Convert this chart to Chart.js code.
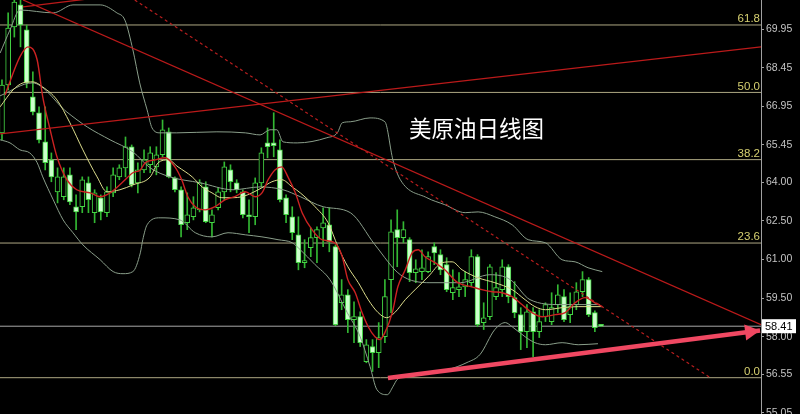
<!DOCTYPE html>
<html>
<head>
<meta charset="utf-8">
<script src="https://cdn.jsdelivr.net/npm/chart.js@4"></script>
<style>
html, body { margin: 0; padding: 0; background: #000; }
#wrap { width: 800px; height: 414px; }
</style>
</head>
<body>
<div id="wrap"><canvas id="canvas" width="800" height="414"></canvas></div>
<script>
const title = '美原油日线图'
const tickValues = [69.95, 68.45, 66.95, 65.45, 64.00, 62.50, 61.00, 59.50, 58.00, 56.55, 55.05]
const fibValues = [70.11, 67.49, 64.88, 61.64, 56.41]
const fibLabels = ['61.8', '50.0', '38.2', '23.6', '0.0']
const lastPrice = 58.41

// daily candles, oldest first
const opens = [65.92,67.78,70.03,70.89,69.92,67.32,66.70,65.57,64.87,63.63,63.44,64.29,63.05,63.05,63.98,62.82,63.40,62.82,63.59,64.21,
  64.56,65.38,63.98,64.48,64.68,64.60,65.07,65.96,64.17,63.71,62.43,62.66,62.93,63.82,62.43,63.01,63.63,64.48,63.98,63.63,
  62.74,62.66,63.98,65.53,65.53,65.26,63.40,62.66,61.96,60.88,61.46,61.85,62.23,62.35,61.50,59.32,59.63,58.66,58.78,57.03,
  57.62,57.38,58.00,60.22,62.16,61.85,61.77,60.49,60.53,60.53,61.50,61.19,60.80,59.71,59.83,59.94,60.10,61.11,58.55,58.78,
  59.56,59.83,60.72,59.52,58.86,58.20,58.97,58.20,58.78,58.59,59.25,59.56,58.86,59.25,59.75,60.22,58.94,58.43]
const highs = [67.98,70.58,71.10,71.10,70.11,68.29,66.93,66.93,65.14,64.56,64.56,64.56,63.51,64.21,64.21,63.71,63.51,63.82,64.56,64.68,
  65.76,65.45,64.76,65.26,65.38,65.38,66.42,66.11,64.21,63.82,63.59,63.44,64.10,64.02,62.93,63.79,64.79,64.68,64.10,63.71,
  63.32,64.17,65.34,66.11,66.70,65.65,63.51,63.05,62.66,61.77,62.23,62.27,63.01,63.01,61.57,60.22,59.83,59.36,58.97,57.89,
  57.89,58.55,60.22,62.54,62.93,62.47,61.85,60.99,61.38,61.30,61.65,61.38,61.07,60.60,60.49,60.53,61.38,61.19,59.32,60.80,
  60.49,60.99,60.80,60.14,59.13,59.25,59.13,59.05,59.32,59.71,60.02,59.83,59.71,60.10,60.53,60.30,59.01,58.45]
const lows = [65.65,67.59,69.64,69.26,67.67,66.62,65.53,64.48,64.02,63.20,63.32,63.13,62.16,62.82,62.82,62.43,62.54,62.66,63.44,64.10,
  64.21,63.82,63.59,64.37,64.37,64.29,64.99,64.17,63.63,61.88,62.16,62.54,62.85,62.43,61.88,62.93,63.32,63.63,63.59,62.62,
  62.04,62.35,63.82,64.95,64.99,63.24,62.43,61.77,60.60,60.68,61.11,60.88,61.50,61.30,58.43,59.05,58.16,57.77,57.62,56.99,
  56.65,56.80,57.77,58.94,60.72,61.65,60.14,60.10,60.22,60.49,60.80,60.41,59.75,59.44,59.56,59.56,59.94,58.39,58.28,58.66,
  59.44,59.56,59.32,58.74,57.50,57.58,57.23,57.97,58.59,58.47,58.94,58.59,58.55,59.05,59.56,58.78,58.20,58.39]
const closes = [67.78,69.99,71.00,70.11,67.86,66.73,65.65,64.76,64.21,64.21,64.21,63.24,62.85,64.10,63.32,63.59,62.85,63.63,64.29,64.56,
  65.38,63.90,64.48,64.87,65.14,65.07,66.04,64.21,63.71,62.35,62.74,63.01,63.98,62.47,62.74,63.63,64.60,64.02,63.71,62.74,
  62.66,63.98,65.14,65.38,65.42,63.32,62.74,62.04,60.88,60.95,61.85,62.16,62.43,61.69,58.47,59.63,58.66,58.78,57.77,57.69,
  57.38,57.97,59.56,62.08,61.85,62.16,60.49,60.64,60.68,61.11,61.26,60.60,59.83,59.91,59.94,60.22,61.11,58.47,58.74,60.72,
  59.91,60.72,59.56,58.94,58.20,58.97,58.20,58.59,59.25,59.13,59.63,58.66,59.17,59.75,60.22,58.86,58.35,58.41]

// indicator lines as [bar index, price]
const maRed = [[0.5,67.39],[2.9,68.87],[4.2,69.26],[5.7,68.75],[6.6,67.32],[7.8,66.04],[8.9,64.99],[10.5,64.10],[12.1,63.71],[14.3,63.59],
  [15.9,63.44],[17.5,63.59],[19.6,64.02],[21.2,64.37],[22.4,64.48],[23.2,64.76],[24.8,64.87],[26.4,64.95],[28.0,64.60],[29.1,64.10],
  [30.1,63.44],[31.3,63.05],[32.9,62.93],[34.5,63.05],[36.1,63.32],[37.7,63.44],[39.4,63.63],[41.0,63.44],[42.1,63.59],[43.1,64.10],
  [44.2,64.48],[45.3,64.60],[46.3,64.21],[47.5,63.59],[48.6,62.82],[50.2,62.16],[51.8,61.77],[53.9,61.65],[55.1,61.11],[56.0,60.22],
  [57.2,59.71],[58.3,58.94],[59.3,58.39],[60.4,58.00],[61.2,57.89],[62.0,58.16],[63.2,58.94],[64.1,59.94],[65.3,60.60],[66.4,61.26],
  [67.4,61.38],[68.5,61.11],[70.1,60.88],[71.7,60.60],[73.8,60.10],[76.1,59.94],[77.7,59.83],[79.4,59.75],[81.0,59.71],[82.6,59.56],
  [84.2,59.25],[85.8,58.94],[87.5,58.78],[89.6,58.86],[91.2,58.94],[92.8,59.32],[94.4,59.52],[96.0,59.32],[97.2,59.17]]
const maYellow = [[-0.3,66.93],[1.8,67.59],[3.4,67.86],[5.0,67.90],[6.6,67.70],[8.9,67.20],[11.0,66.31],[13.1,65.26],[15.4,64.21],[17.0,63.63],
  [19.1,63.71],[21.2,63.90],[24.0,64.21],[25.3,64.76],[26.9,64.87],[28.5,64.60],[30.8,64.21],[32.4,63.82],[34.0,63.59],[35.6,63.40],
  [37.3,63.40],[38.9,63.44],[40.5,63.59],[42.1,63.79],[43.7,64.02],[45.3,64.10],[47.0,63.82],[48.3,63.59],[50.7,63.05],[52.8,62.43],
  [54.4,61.50],[56.0,60.72],[57.7,60.10],[59.3,59.44],[60.9,58.94],[62.3,58.74],[63.6,58.94],[65.3,59.44],[66.9,59.83],[69.0,60.33],
  [71.3,60.88],[72.9,60.91],[74.5,60.60],[77.1,60.29],[79.8,60.10],[82.6,59.83],[84.7,59.44],[86.3,59.17],[88.0,59.05],[90.7,59.13],
  [93.3,59.17],[97.2,59.17]]
const bandUpper = [[-0.3,69.02],[1.3,69.92],[2.9,70.69],[8.3,70.58],[11.5,70.89],[15.9,70.89],[18.6,70.58],[19.9,70.30],[21.2,69.14],[22.3,67.86],
  [23.5,66.81],[24.3,66.11],[25.6,65.92],[28.3,65.92],[34.8,65.96],[39.4,65.92],[41.8,65.84],[43.4,66.04],[44.5,66.04],[45.5,65.57],
  [47.8,65.53],[52.6,65.73],[54.3,65.92],[55.1,66.31],[56.4,66.35],[59.6,66.50],[62.0,66.35],[63.3,64.87],[64.5,64.10],[68.8,63.40],
  [71.7,63.13],[75.0,62.82],[77.1,62.85],[79.8,62.66],[82.6,62.35],[85.2,61.77],[88.0,61.65],[90.7,60.99],[92.8,60.91],[94.9,60.68],[97.2,60.53]]
const bandMid = [[-0.3,67.36],[4.9,67.86],[10.5,66.73],[13.8,66.15],[17.5,65.65],[21.2,65.18],[24.0,64.56],[27.2,64.21],[32.1,63.98],[37.4,63.71],
  [41.8,63.82],[45.5,63.71],[48.3,63.44],[52.0,63.05],[56.4,62.82],[60.4,61.57],[64.5,60.41],[69.3,60.10],[74.2,60.10],[79.0,60.41],
  [82.3,60.22],[85.5,59.44],[90.4,59.25],[96.8,59.25]]
const bandLower = [[-0.3,65.65],[1.3,65.53],[2.9,65.26],[4.5,65.14],[5.7,64.76],[6.6,64.21],[8.3,63.32],[9.9,62.54],[11.5,62.04],[13.1,61.57],
  [15.9,60.99],[18.0,60.53],[19.6,60.45],[21.2,60.53],[22.4,61.26],[22.8,61.77],[23.5,62.35],[25.6,62.62],[28.8,62.54],[31.3,62.04],
  [34.0,61.88],[36.6,62.04],[39.4,61.96],[42.1,61.88],[44.7,61.77],[47.0,61.65],[48.3,61.38],[50.7,60.80],[53.1,60.22],[55.9,58.94],
  [58.0,58.00],[59.6,56.84],[60.7,55.95],[62.4,55.75],[63.3,56.06],[64.0,56.34],[66.6,56.53],[72.1,56.72],[75.3,57.00],[77.4,57.31],
  [79.8,58.28],[81.5,58.55],[82.6,58.39],[84.7,58.00],[86.3,57.77],[88.0,57.69],[90.7,57.77],[93.3,57.69],[96.5,57.73]]

// hand drawn lines
const trendUp = [[-0.32,65.88],[122.9,69.26]]
const trendUpTop = [[3.4,70.81],[22.35,71.37]]
const trendDown = [[3.4,71.08],[122.9,58.47]]
const trendDotted = [[21.5,71.08],[114.7,56.41]]
const arrowLine = [[62.5,56.40],[122.75,58.24]]

const xMin = -0.32
const xMax = 122.9

const pts = arr => arr.map(p => ({ x: p[0], y: p[1] }))

function lineSet(arr, color, width, order, extra) {
  return Object.assign({
    type: 'line',
    data: pts(arr),
    borderColor: color,
    borderWidth: width,
    pointRadius: 0,
    fill: false,
    order: order,
  }, extra || {})
}

const datasets = []
datasets.push(lineSet(arrowLine, '#f04862', 4.5, 0))
datasets.push(lineSet(trendUp, '#bb1a1a', 1.3, 1))
datasets.push(lineSet(trendUpTop, '#bb1a1a', 1.3, 1))
datasets.push(lineSet(trendDown, '#bb1a1a', 1.3, 1))
datasets.push(lineSet(trendDotted, '#b81e1e', 1.2, 1, { borderDash: [3, 3] }))
datasets.push(lineSet(maRed, '#cc2222', 1.4, 2, { cubicInterpolationMode: 'monotone' }))
datasets.push(lineSet(maYellow, '#dcdc8c', 1, 3, { cubicInterpolationMode: 'monotone' }))
datasets.push(lineSet(bandUpper, '#8a9e8a', 1, 4, { cubicInterpolationMode: 'monotone' }))
datasets.push(lineSet(bandMid, '#8a9e8a', 1, 4, { cubicInterpolationMode: 'monotone' }))
datasets.push(lineSet(bandLower, '#8a9e8a', 1, 4, { cubicInterpolationMode: 'monotone' }))

datasets.push({
  type: 'bar',
  data: opens.map((o, i) => ({ x: i, y: [o, closes[i]] })),
  backgroundColor: opens.map((o, i) => closes[i] < o ? '#ccffcc' : '#000000'),
  borderColor: '#44d444',
  borderWidth: 1,
  borderSkipped: false,
  barThickness: 5,
  minBarLength: 2,
  grouped: false,
  order: 5,
})
datasets.push({
  type: 'bar',
  data: lows.map((l, i) => ({ x: i, y: [l, highs[i]] })),
  backgroundColor: '#33b833',
  borderWidth: 0,
  barThickness: 1,
  grouped: false,
  order: 6,
})

fibValues.forEach(v => {
  datasets.push(lineSet([[xMin, v], [xMax, v]], '#aea883', 1, 7))
})
datasets.push(lineSet([[xMin, lastPrice], [xMax, lastPrice]], '#a8a8a8', 1, 7))

const overlay = {
  id: 'overlay',
  afterDatasetsDraw(chart) {
    const ctx = chart.ctx
    const area = chart.chartArea
    const ys = chart.scales.y

    // arrow head
    const meta = chart.getDatasetMeta(0)
    const a = meta.data[0], b = meta.data[1]
    const ang = Math.atan2(b.y - a.y, b.x - a.x)
    const len = 15, half = 8
    ctx.save()
    ctx.fillStyle = '#f04862'
    ctx.beginPath()
    ctx.moveTo(b.x, b.y)
    ctx.lineTo(b.x - len * Math.cos(ang) + half * Math.sin(ang), b.y - len * Math.sin(ang) - half * Math.cos(ang))
    ctx.lineTo(b.x - len * Math.cos(ang) - half * Math.sin(ang), b.y - len * Math.sin(ang) + half * Math.cos(ang))
    ctx.closePath()
    ctx.fill()

    // fibonacci level labels
    ctx.font = '11.5px "Liberation Sans", Arial, sans-serif'
    ctx.fillStyle = '#d6d070'
    ctx.textAlign = 'right'
    ctx.textBaseline = 'bottom'
    fibValues.forEach((v, i) => {
      ctx.fillText(fibLabels[i], area.right - 1, ys.getPixelForValue(v))
    })

    // last price box
    const py = ys.getPixelForValue(lastPrice)
    ctx.fillStyle = '#ffffff'
    ctx.fillRect(area.right + 1, py - 7, 34, 14)
    ctx.fillStyle = '#000000'
    ctx.textAlign = 'left'
    ctx.textBaseline = 'middle'
    ctx.font = '11px "Liberation Sans", Arial, sans-serif'
    ctx.fillText(lastPrice.toFixed(2), area.right + 4, py + 1)

    // chart title
    ctx.fillStyle = '#ffffff'
    ctx.font = '22.5px "Noto Sans CJK SC", sans-serif'
    ctx.textBaseline = 'middle'
    ctx.fillText(title, 409, 128)
    ctx.restore()
  }
}

const config = {
  type: 'bar',
  data: { datasets: datasets },
  options: {
    responsive: false,
    animation: false,
    devicePixelRatio: 1,
    layout: { padding: 0 },
    plugins: { legend: { display: false }, tooltip: { enabled: false } },
    scales: {
      x: { type: 'linear', min: xMin, max: xMax, offset: false, display: false },
      y: {
        position: 'right',
        min: 55.0,
        max: 71.08,
        afterBuildTicks: s => { s.ticks = tickValues.map(v => ({ value: v })) },
        afterFit: s => { s.width = 39; s.paddingTop = 0; s.paddingBottom = 0 },
        ticks: {
          color: '#c4c4c4',
          font: { family: '"Liberation Sans", Arial, sans-serif', size: 10.5 },
          padding: 2,
          autoSkip: false,
          callback: v => Number(v).toFixed(2),
        },
        grid: { drawOnChartArea: false, tickLength: 3, color: '#a0a0a0' },
        border: { color: '#a0a0a0' },
      },
    },
  },
  plugins: [overlay],
}

const canvas = document.getElementById('canvas')
const chart = new Chart(canvas, config)
</script>
</body>
</html>
